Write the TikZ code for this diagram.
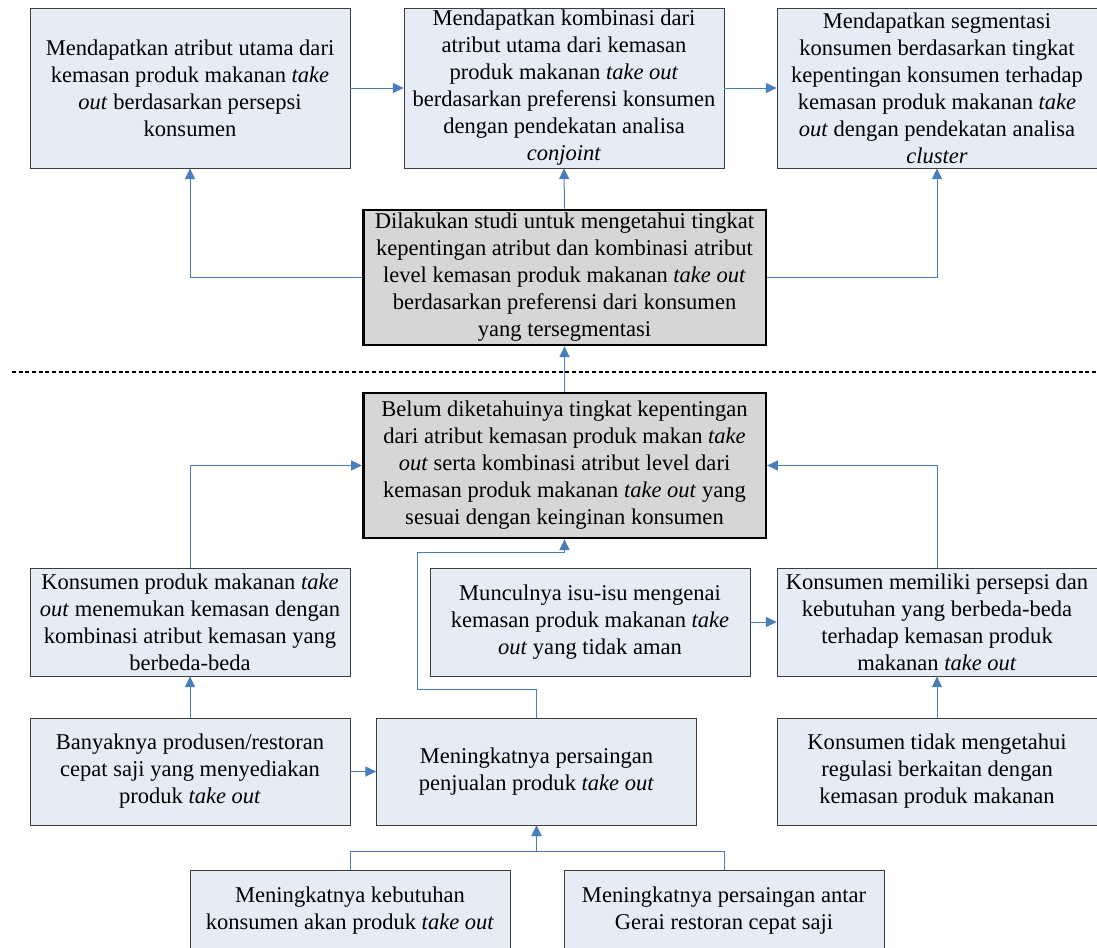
\documentclass[tikz,border=0pt]{standalone}
\usepackage{fontspec}
\setmainfont{Liberation Serif}[ItalicFont={Liberation Serif Italic}]
\usetikzlibrary{arrows.meta}

\definecolor{boxblue}{RGB}{230,236,246}
\definecolor{boxedge}{RGB}{60,60,60}
\definecolor{keygray}{RGB}{214,214,214}
\definecolor{linkblue}{RGB}{74,126,187}

\tikzset{
  box/.style={draw=boxedge, line width=0.6pt, fill=boxblue, align=center,
    inner sep=0pt, minimum width=240pt, minimum height=#1,
    font=\fontsize{16.9}{20.25}\selectfont},
  box/.default=81pt,
  keybox/.style={box=#1, draw=black, line width=2pt, fill=keygray, minimum width=302pt},
  link/.style={draw=linkblue, line width=0.75pt, -{Triangle[length=8pt,width=7.5pt]}},
}

\begin{document}
\begin{tikzpicture}[x=0.75pt,y=-0.75pt]
    \useasboundingbox (0,0) rectangle (1097,947);
    \fill[white] (0,0) rectangle (1097,947);
    % goals of the study (top row)
    \node[box=120pt] (utama) at (190,88) {Mendapatkan atribut utama dari\\kemasan produk makanan \emph{take}\\\emph{out} berdasarkan persepsi\\konsumen};
    \node[box=120pt] (kombinasi) at (564,88) {Mendapatkan kombinasi dari\\atribut utama dari kemasan\\produk makanan \emph{take out}\\berdasarkan preferensi konsumen\\dengan pendekatan analisa\\\emph{conjoint}};
    \node[box=120pt] (segmen) at (937,88) {Mendapatkan segmentasi\\konsumen berdasarkan tingkat\\kepentingan konsumen terhadap\\kemasan produk makanan \emph{take}\\\emph{out} dengan pendekatan analisa\\\emph{cluster}};
    % the study itself
    \node[keybox=101.25pt] (studi) at (564.5,277.5) {Dilakukan studi untuk mengetahui tingkat\\kepentingan atribut dan kombinasi atribut\\level kemasan produk makanan \emph{take out}\\berdasarkan preferensi dari konsumen\\yang tersegmentasi};
    % separator between goals and problem
    \draw[line width=1.5pt, dash pattern=on 3pt off 2pt] (12,372) -- (1097,372);
    % the problem
    \node[keybox=108.75pt] (masalah) at (564.5,465.5) {Belum diketahuinya tingkat kepentingan\\dari atribut kemasan produk makan \emph{take}\\\emph{out} serta kombinasi atribut level dari\\kemasan produk makanan \emph{take out} yang\\sesuai dengan keinginan konsumen};
    % direct causes
    \node[box] (beragam) at (190,622) {Konsumen produk makanan \emph{take}\\\emph{out} menemukan kemasan dengan\\kombinasi atribut kemasan yang\\berbeda-beda};
    \node[box] (isu) at (590,622) {Munculnya isu-isu mengenai\\kemasan produk makanan \emph{take}\\\emph{out} yang tidak aman};
    \node[box] (persepsi) at (937,622) {Konsumen memiliki persepsi dan\\kebutuhan yang berbeda-beda\\terhadap kemasan produk\\makanan \emph{take out}};
    % deeper causes
    \node[box=80.25pt] (produsen) at (190,771.5) {Banyaknya produsen/restoran\\cepat saji yang menyediakan\\produk \emph{take out}};
    \node[box=80.25pt] (saing) at (536.5,771.5) {Meningkatnya persaingan\\penjualan produk \emph{take out}};
    \node[box=80.25pt] (regulasi) at (937,771.5) {Konsumen tidak mengetahui\\regulasi berkaitan dengan\\kemasan produk makanan};
    \node[box=60.75pt] (butuh) at (350,910.5) {Meningkatnya kebutuhan\\konsumen akan produk \emph{take out}};
    \node[box=60.75pt] (gerai) at (724,910.5) {Meningkatnya persaingan antar\\Gerai restoran cepat saji};
    % bend points
    \coordinate (tikungA) at (417,689);
    \coordinate (tikungB) at (564.5,552);
    \coordinate (temu) at (536.5,851);
    % connectors
    \draw[link] (utama) -- (kombinasi);
    \draw[link] (kombinasi) -- (segmen);
    \draw[link] (studi.west) -| (utama.south);
    \draw[link] (studi.east) -| (segmen.south);
    \foreach \from/\to in {studi/kombinasi,masalah/studi,produsen/beragam,regulasi/persepsi}{%
        \draw[link] (\from.north) -- (\to.south);
    }
    \draw[link] (beragam.north) |- (masalah.west);
    \draw[link] (persepsi.north) |- (masalah.east);
    \draw[link] (isu) -- (persepsi);
    \draw[link] (produsen) -- (saing);
    \draw[link] (saing.north) |- (tikungA) |- (tikungB) -- (masalah.south);
    \draw[link] (butuh.north) |- (temu) -- (saing.south);
    \draw[link] (gerai.north) |- (temu) -- (saing.south);
\end{tikzpicture}
\end{document}
